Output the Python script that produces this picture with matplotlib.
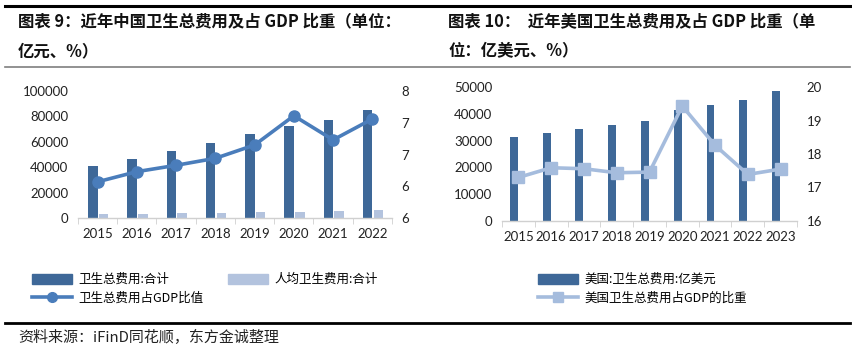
import math
import matplotlib
matplotlib.use("Agg")
import matplotlib.pyplot as plt
import numpy as np
from matplotlib.lines import Line2D
from matplotlib.patches import Patch
from matplotlib.ticker import FixedLocator, FuncFormatter

plt.rcParams['font.family'] = ['Noto Sans CJK SC', 'DejaVu Sans']

# China: total health expenditure (亿元), per-capita (元), share of GDP (%)
cn_years = ['2015', '2016', '2017', '2018', '2019', '2020', '2021', '2022']
cn_total = [40975, 46345, 52598, 59122, 65841, 72175, 76845, 84847]
cn_per_capita = [2980, 3352, 3784, 4237, 4702, 5112, 5440, 6010]
cn_gdp_share = [6.07, 6.23, 6.33, 6.44, 6.65, 7.11, 6.73, 7.06]

# US: total health expenditure (亿美元), share of GDP (%)
us_years = ['2015', '2016', '2017', '2018', '2019', '2020', '2021', '2022', '2023']
us_total = [31400, 32900, 34250, 35750, 37450, 41300, 43200, 45050, 48500]
us_gdp_share = [17.30, 17.59, 17.56, 17.44, 17.46, 19.43, 18.26, 17.39, 17.55]

DARK = '#3e6898'
LIGHT = '#b3c3de'
LINE_CN = '#4a7dbb'
LINE_US = '#a5bcdd'
AXIS_GREY = '#d0d0d0'
TICK_FONT = 'Lato'

W, H = 853, 348
fig = plt.figure(figsize=(W / 100, H / 100), dpi=100)


def fx(px):
    return px / W


def fy(py):
    return 1 - py / H


def style_axes(ax, ax2, n):
    for a in (ax, ax2):
        for s in ('top', 'left', 'right', 'bottom'):
            a.spines[s].set_visible(False)
    ax.spines['bottom'].set_visible(True)
    ax.spines['bottom'].set_color(AXIS_GREY)
    ax.spines['bottom'].set_linewidth(1.0)
    ax.set_xlim(-0.5, n - 0.5)
    ax.xaxis.set_minor_locator(FixedLocator(np.arange(-0.5, n, 1.0)))
    ax.tick_params(axis='x', which='major', length=0, pad=7,
                   labelsize=9.5, labelcolor='#222222')
    ax.tick_params(axis='x', which='minor', length=4, color=AXIS_GREY,
                   direction='out')
    ax.tick_params(axis='y', length=0, pad=7, labelsize=9.5,
                   labelcolor='#222222')
    ax2.tick_params(axis='y', length=0, pad=7, labelsize=9.5,
                    labelcolor='#222222')
    for lab in ax.get_xticklabels() + ax.get_yticklabels() + ax2.get_yticklabels():
        lab.set_fontfamily(TICK_FONT)


# ---- left panel: China ----
axL = fig.add_axes([fx(78), fy(218), fx(392 - 78), fy(91) - fy(218)])
x = np.arange(len(cn_years))
bw = 0.245
axL.bar(x - bw / 2, cn_total, width=bw, color=DARK, zorder=2)
axL.bar(x + 0.03 + bw / 2, cn_per_capita, width=bw, color=LIGHT, zorder=2)
axL.set_ylim(0, 100000)
axL.set_yticks(np.arange(0, 100001, 20000))
axL.set_xticks(x)
axL.set_xticklabels(cn_years)
axL2 = axL.twinx()
axL2.plot(x, cn_gdp_share, color=LINE_CN, lw=2.6, marker='o', ms=8,
          zorder=3)
axL2.set_ylim(5.5, 7.5)
axL2.set_yticks(np.arange(5.5, 7.51, 0.5))
# labels use zero decimals, rounding halves up
axL2.yaxis.set_major_formatter(FuncFormatter(lambda v, p: str(int(math.floor(v + 0.5)))))
style_axes(axL, axL2, len(cn_years))

# ---- right panel: US ----
axR = fig.add_axes([fx(502), fy(221), fx(797 - 502), fy(87) - fy(221)])
xu = np.arange(len(us_years))
bwu = 0.24
axR.bar(xu - 0.02 - bwu / 2, us_total, width=bwu, color=DARK, zorder=2)
axR.set_ylim(0, 50000)
axR.set_yticks(np.arange(0, 50001, 10000))
axR.set_xticks(xu)
axR.set_xticklabels(us_years)
axR2 = axR.twinx()
axR2.plot(xu, us_gdp_share, color=LINE_US, lw=2.6, marker='s', ms=8,
          zorder=3)
axR2.set_ylim(16, 20)
axR2.set_yticks(np.arange(16, 20.1, 1))
style_axes(axR, axR2, len(us_years))

# ---- titles and rules ----
title_kw = dict(fontsize=11.8, fontweight='bold', color='#111111',
                va='center', ha='left')
fig.text(fx(18), fy(21), '图表 9：近年中国卫生总费用及占 GDP 比重（单位：', **title_kw)
fig.text(fx(18), fy(51), '亿元、%）', **title_kw)
fig.text(fx(448), fy(21), '图表 10：  近年美国卫生总费用及占 GDP 比重（单', **title_kw)
fig.text(fx(448), fy(51), '位：亿美元、%）', **title_kw)

fig.add_artist(Line2D([fx(5), fx(850)], [fy(6), fy(6)], color='black', lw=2.2))
fig.add_artist(Line2D([fx(5), fx(850)], [fy(67), fy(67)], color='#7f7f7f', lw=1.2))
fig.add_artist(Line2D([fx(5), fx(850)], [fy(323), fy(323)], color='black', lw=2.0))

fig.text(fx(18), fy(337), '资料来源：iFinD同花顺，东方金诚整理', fontsize=10.8,
         color='#222222', va='center', ha='left')

# ---- legends ----
leg_kw = dict(frameon=False, fontsize=9, handlelength=3.2, handleheight=0.9,
              handletextpad=0.5, labelspacing=0.45, borderpad=0,
              borderaxespad=0, loc='upper left')
hL = [Patch(color=DARK, label='卫生总费用:合计'),
      Line2D([], [], color=LINE_CN, lw=2.6, marker='o', ms=7,
             label='卫生总费用占GDP比值'),
      Patch(color=LIGHT, label='人均卫生费用:合计')]
fig.legend(handles=hL, ncol=2, columnspacing=2.0,
           bbox_to_anchor=(fx(32), fy(273)), **leg_kw)
hR = [Patch(color=DARK, label='美国:卫生总费用:亿美元'),
      Line2D([], [], color=LINE_US, lw=2.6, marker='s', ms=7,
             label='美国卫生总费用占GDP的比重')]
fig.legend(handles=hR, ncol=1, bbox_to_anchor=(fx(538), fy(273)), **leg_kw)

fig.savefig('out.png', dpi=100)
